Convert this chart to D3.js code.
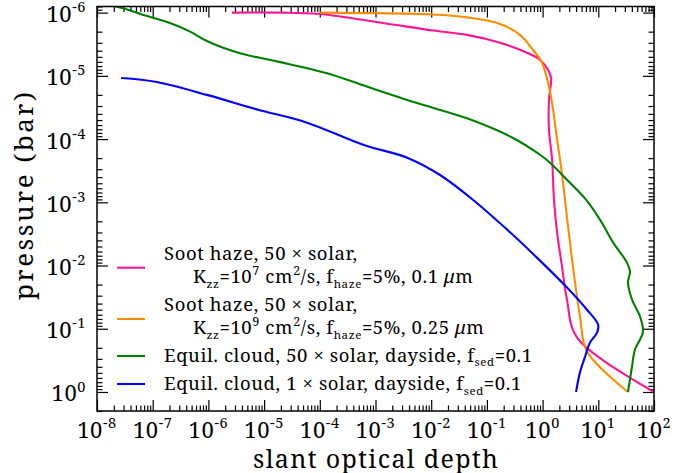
<!DOCTYPE html>
<html>
<head>
<meta charset="utf-8">
<script src="https://cdn.jsdelivr.net/npm/d3@7"></script>
<style>
  body { margin: 0; background: #fff; }
  svg { display: block; }
</style>
</head>
<body>
<svg id="chart" width="692" height="473" font-family="Noto Serif, Liberation Serif, serif"></svg>
<script>
// ---- data: slant optical depth (tau) vs pressure (bar) ----
const hazeK7Tau = [2.65e-6, 1.93e-5, 1.0e-4, 1.36e-3, 1.08e-2, 0.044, 0.172, 0.525, 0.90, 1.25, 1.42, 1.30, 1.30, 1.48, 1.60, 1.82, 2.23, 2.74, 4.15, 100];
const hazeK7P   = [1.0e-6, 1.0e-6, 1.05e-6, 1.46e-6, 1.92e-6, 2.25e-6, 3.0e-6, 4.3e-6, 5.6e-6, 8.0e-6, 1.08e-5, 2.4e-5, 7.1e-5, 2.1e-4, 9.1e-4, 3.0e-3, 0.0104, 0.0346, 0.138, 1.0];

const hazeK9Tau = [1.0e-4, 1.08e-2, 0.044, 0.172, 0.393, 0.673, 0.975, 1.30, 1.54, 1.82, 2.14, 2.52, 3.10, 3.82, 4.69, 6.26, 34.1];
const hazeK9P   = [1.0e-6, 1.07e-6, 1.19e-6, 1.51e-6, 2.25e-6, 3.9e-6, 6.2e-6, 1.49e-5, 3.4e-5, 1.03e-4, 2.7e-4, 9.1e-4, 4.3e-3, 0.0186, 0.064, 0.229, 1.0];

const cloud50Tau = [1.13e-8, 1.94e-8, 3.6e-8, 6.0e-8, 1.0e-7, 2.05e-7, 4.7e-7, 9.8e-7, 3.7e-6, 1.7e-5, 1.35e-4, 7.0e-4, 5.6e-3, 0.044, 0.294, 0.90, 1.36, 2.74, 6.0, 10.7, 18.4, 32.7, 37.1, 34.1, 40.3, 56.1, 63.5, 56.1, 45.6, 40.3, 34.1];
const cloud50P   = [7.0e-7, 7.8e-7, 9.0e-7, 1.05e-6, 1.2e-6, 1.46e-6, 2.0e-6, 2.87e-6, 4.4e-6, 5.9e-6, 9.1e-6, 1.48e-5, 2.7e-5, 4.7e-5, 9.6e-5, 1.77e-4, 2.37e-4, 4.4e-4, 9.1e-4, 1.88e-3, 4.3e-3, 9.0e-3, 0.0125, 0.0186, 0.0346, 0.064, 0.111, 0.148, 0.213, 0.395, 1.0];

const cloud1Tau = [2.7e-8, 1.19e-7, 9.4e-7, 7.5e-6, 5.9e-5, 6.0e-4, 3.7e-3, 0.0144, 0.056, 0.230, 0.79, 2.74, 6.26, 9.9, 9.5, 7.1, 5.8, 4.69, 3.98];
const cloud1P   = [1.08e-5, 1.25e-5, 2.0e-5, 3.4e-5, 5.5e-5, 1.23e-4, 1.97e-4, 3.7e-4, 9.1e-4, 2.7e-3, 7.5e-3, 0.0223, 0.050, 0.086, 0.115, 0.165, 0.275, 0.49, 1.0];

const seriesColors = ["#ff1493", "#ff8c00", "#008000", "#0000ff"];
const seriesLabels = [
  ["Soot haze, 50 \u00d7 solar,", "K_{zz}=10^{7} cm^{2}/s, f_{haze}=5%, 0.1 *{\u03bc}m"],
  ["Soot haze, 50 \u00d7 solar,", "K_{zz}=10^{9} cm^{2}/s, f_{haze}=5%, 0.25 *{\u03bc}m"],
  ["Equil. cloud, 50 \u00d7 solar, dayside, f_{sed}=0.1"],
  ["Equil. cloud, 1 \u00d7 solar, dayside, f_{sed}=0.1"]
];
const xTickExps = [-8, -7, -6, -5, -4, -3, -2, -1, 0, 1, 2];
const yTickExps = [-6, -5, -4, -3, -2, -1, 0];
const xTitle = "slant optical depth";
const yTitle = "pressure (bar)";

const series = [
  { tau: hazeK7Tau, p: hazeK7P },
  { tau: hazeK9Tau, p: hazeK9P },
  { tau: cloud50Tau, p: cloud50P },
  { tau: cloud1Tau, p: cloud1P }
];

// ---- layout ----
const plot = { left: 97, right: 654, top: 6.5, bottom: 411 };
const svg = d3.select("#chart");

const x = d3.scaleLog().domain([1e-8, 1e2]).range([plot.left, plot.right]);
const y = d3.scaleLog().domain([8e-7, 2]).range([plot.top, plot.bottom]);

// text with ^{sup}, _{sub} and *{italic} markup
function richText(sel, str, size, supScale = 0.68, supRise = 0.42) {
  const parts = str.split(/(\^\{[^}]*\}|_\{[^}]*\}|\*\{[^}]*\})/).filter(s => s.length);
  let off = 0;
  parts.forEach(part => {
    let target = 0, txt = part, fs = size, italic = false;
    if (part[0] === "^") { target = -supRise * size; txt = part.slice(2, -1); fs = size * supScale; }
    else if (part[0] === "_") { target = 0.25 * size; txt = part.slice(2, -1); fs = size * 0.62; }
    else if (part[0] === "*") { txt = part.slice(2, -1); italic = true; }
    const t = sel.append("tspan").attr("dy", target - off).attr("font-size", fs).text(txt);
    if (italic) t.attr("font-style", "italic");
    off = target;
  });
}

// minor tick values
function minorTicks(lo, hi) {
  const out = [];
  for (let e = lo; e <= hi; e++) for (let k = 2; k <= 9; k++) out.push(k * Math.pow(10, e));
  return out;
}
const xMajor = xTickExps.map(e => Math.pow(10, e));
const yMajor = yTickExps.map(e => Math.pow(10, e));
const xMinor = minorTicks(-8, 1).filter(v => v >= 1e-8 && v <= 1e2);
const yMinor = minorTicks(-7, 0).filter(v => v >= 8e-7 && v <= 2);

const majorLen = 11, minorLen = 5.5;
function tickAxis(axisFn, scale, values, len, transform) {
  svg.append("g").attr("transform", transform)
    .call(axisFn(scale).tickValues(values).tickSize(-len).tickFormat(""))
    .call(g => g.select(".domain").remove())
    .call(g => g.selectAll("line").attr("stroke", "#000").attr("stroke-width", 1.2));
}
tickAxis(d3.axisBottom, x, xMajor, majorLen, `translate(0,${plot.bottom})`);
tickAxis(d3.axisBottom, x, xMinor, minorLen, `translate(0,${plot.bottom})`);
tickAxis(d3.axisTop, x, xMajor, majorLen, `translate(0,${plot.top})`);
tickAxis(d3.axisTop, x, xMinor, minorLen, `translate(0,${plot.top})`);
tickAxis(d3.axisLeft, y, yMajor, majorLen, `translate(${plot.left},0)`);
tickAxis(d3.axisLeft, y, yMinor, minorLen, `translate(${plot.left},0)`);
tickAxis(d3.axisRight, y, yMajor, majorLen, `translate(${plot.right},0)`);
tickAxis(d3.axisRight, y, yMinor, minorLen, `translate(${plot.right},0)`);

// tick labels
const tickFont = 22;
xTickExps.forEach(e => {
  const t = svg.append("text").attr("x", x(Math.pow(10, e))).attr("y", 437.5)
    .attr("text-anchor", "middle").attr("font-size", tickFont).attr("letter-spacing", 0.6);
  richText(t, `10^{${e}}`, tickFont, 0.66, 0.45);
});
yTickExps.forEach(e => {
  const t = svg.append("text").attr("x", 86).attr("y", y(Math.pow(10, e)) + 9.5)
    .attr("text-anchor", "end").attr("font-size", tickFont).attr("letter-spacing", 0.6);
  richText(t, `10^{${e}}`, tickFont, 0.66, 0.45);
});

// axis titles
svg.append("text").attr("x", (plot.left + plot.right) / 2).attr("y", 467.5)
  .attr("text-anchor", "middle").attr("font-size", 25)
  .attr("textLength", 245).attr("lengthAdjust", "spacing").text(xTitle);
svg.append("text").attr("transform", `translate(33,196) rotate(-90)`)
  .attr("text-anchor", "middle").attr("font-size", 26)
  .attr("textLength", 208).attr("lengthAdjust", "spacing").text(yTitle);

// curves
svg.append("clipPath").attr("id", "plotClip").append("rect")
  .attr("x", plot.left).attr("y", plot.top)
  .attr("width", plot.right - plot.left).attr("height", plot.bottom - plot.top);

const line = d3.line()
  .x(d => x(d[0])).y(d => y(d[1]))
  .curve(d3.curveCatmullRom.alpha(0.5));

const curves = svg.append("g").attr("clip-path", "url(#plotClip)");
series.forEach((s, i) => {
  const pts = s.tau.map((t, j) => [t, s.p[j]]);
  curves.append("path").datum(pts).attr("d", line)
    .attr("fill", "none").attr("stroke", seriesColors[i]).attr("stroke-width", 2.1)
    .attr("stroke-linejoin", "round");
});

// frame
svg.append("rect").attr("x", plot.left).attr("y", plot.top)
  .attr("width", plot.right - plot.left).attr("height", plot.bottom - plot.top)
  .attr("fill", "none").attr("stroke", "#000").attr("stroke-width", 1.5);

// legend
const legendFont = 18.5;
const legendRows = [
  { lineY: 267.7, baselines: [260, 283] },
  { lineY: 319, baselines: [311, 334] },
  { lineY: 356, baselines: [361.5] },
  { lineY: 384, baselines: [390] }
];
const legend = svg.append("g");
legendRows.forEach((row, i) => {
  legend.append("line").attr("x1", 117).attr("x2", 145)
    .attr("y1", row.lineY).attr("y2", row.lineY)
    .attr("stroke", seriesColors[i]).attr("stroke-width", 2.1);
  seriesLabels[i].forEach((lbl, k) => {
    const t = legend.append("text").attr("x", k === 0 ? 164 : 193)
      .attr("y", row.baselines[k]).attr("font-size", legendFont).attr("letter-spacing", 0.6);
    richText(t, lbl, legendFont);
  });
});
</script>
</body>
</html>
